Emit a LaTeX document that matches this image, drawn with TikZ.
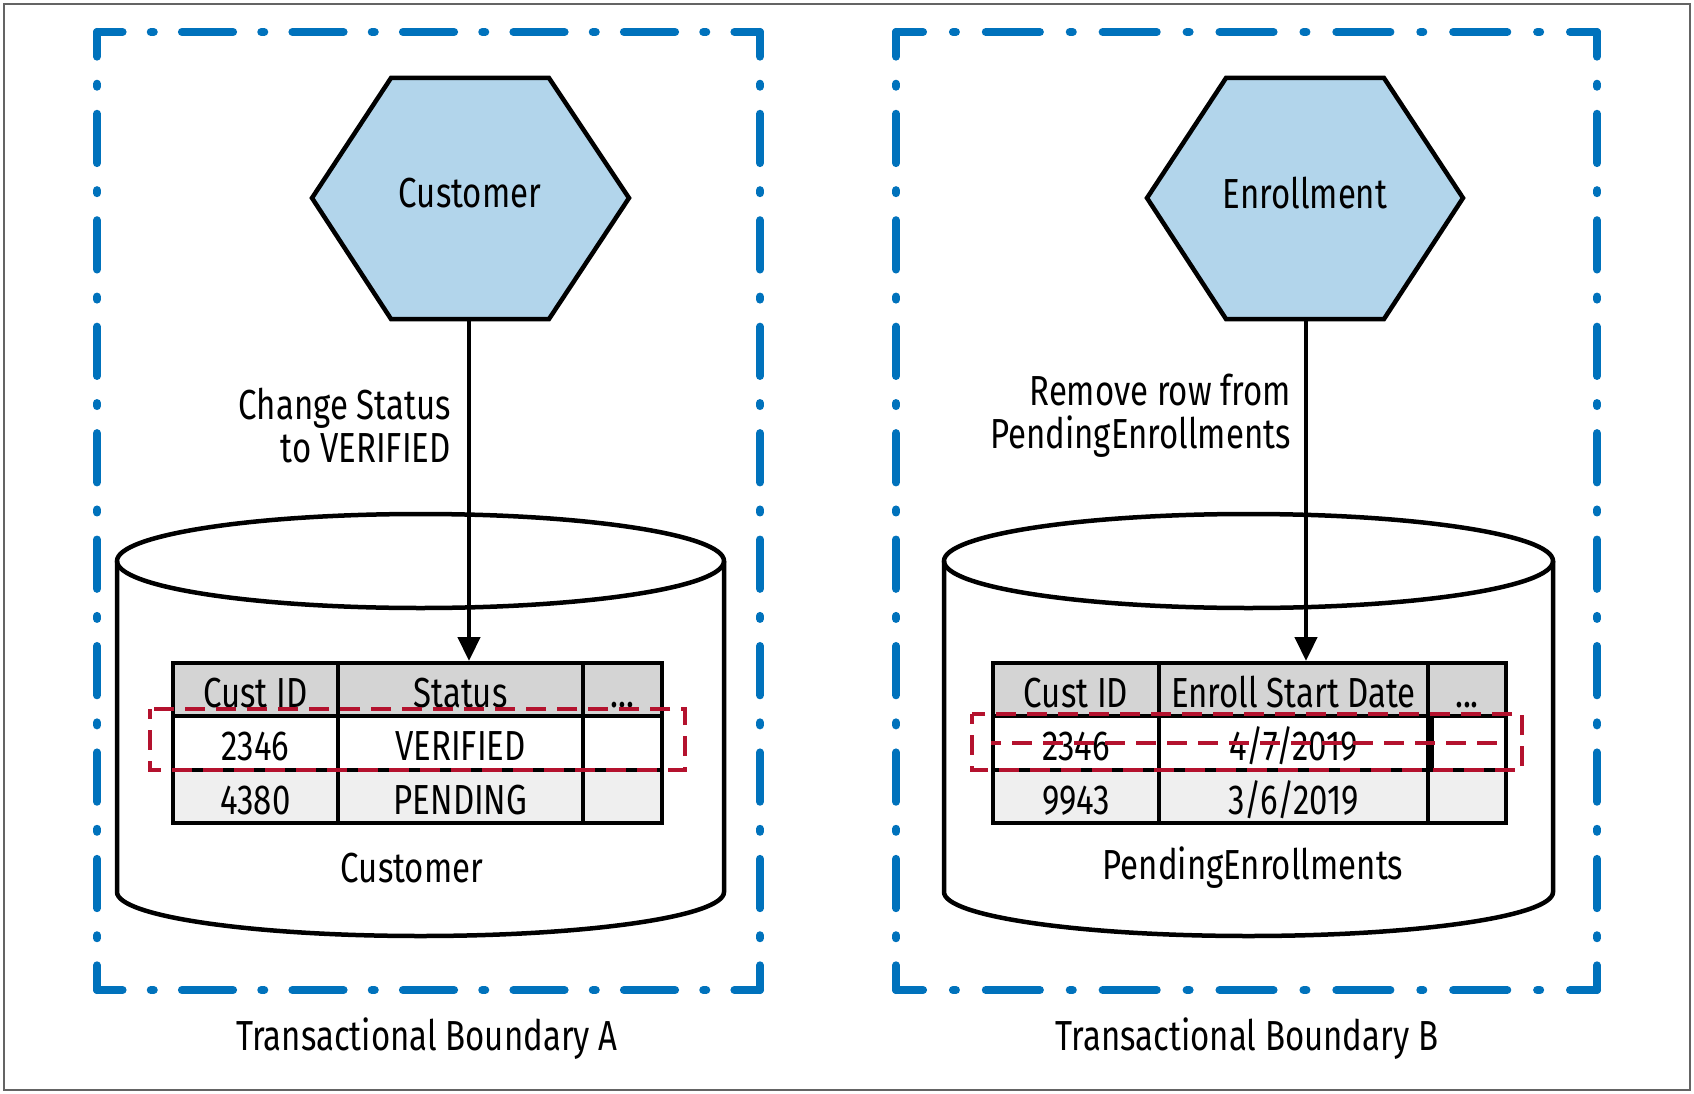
\documentclass[tikz,border=0pt]{standalone}
\usepackage{fontspec}
\setmainfont[FakeStretch=0.785]{Fira Sans}
\usetikzlibrary{arrows.meta}
\definecolor{bblue}{RGB}{0,114,188}
\definecolor{hexfill}{RGB}{178,213,235}
\definecolor{hdr}{RGB}{212,212,212}
\definecolor{rowtwo}{RGB}{239,239,239}
\definecolor{rred}{RGB}{180,18,46}
\definecolor{framegray}{RGB}{100,100,100}
\begin{document}
\begin{tikzpicture}[x=1pt,y=-1pt,
  font=\fontsize{42}{43}\selectfont,
  bnd/.style={draw=bblue, line width=8pt, line cap=round},
  bndH/.style={bnd, dash pattern=on 51.2pt off 28.15pt on 3pt off 28.15pt, dash phase=25.6pt},
  bndV/.style={bnd, dash pattern=on 49.3pt off 27.07pt on 3pt off 27.07pt, dash phase=24.65pt},
  bndHB/.style={bnd, dash pattern=on 54.1pt off 29.87pt on 3pt off 29.87pt, dash phase=27.05pt},
  hexa/.style={draw=black, fill=hexfill, line width=4.5pt, line join=miter},
  cyl/.style={draw=black, line width=4.5pt},
  cell/.style={draw=black, line width=4pt, inner sep=0pt, anchor=north west, text height=36pt, text depth=1pt},
  reddash/.style={draw=rred, line width=4.5pt, dash pattern=on 20pt off 11pt, dash phase=10pt},
  arr/.style={draw=black, line width=4.5pt, -{Triangle[width=22pt,length=24pt]}},
  lbl/.style={inner sep=0pt}
]
\useasboundingbox (0,0) rectangle (1694,1094);
\fill[white] (0,0) rectangle (1694,1094);
\draw[framegray, line width=2pt] (4,4) rectangle (1690,1090);

% boundary A
\coordinate (A1) at (97,32); \coordinate (A2) at (760,32);
\coordinate (A3) at (760,990); \coordinate (A4) at (97,990);
\draw[bndH] (A1) -- (A2);
\draw[bndH] (A4) -- (A3);
\draw[bndV] (A1) -- (A4);
\draw[bndV] (A2) -- (A3);
% boundary B
\coordinate (B1) at (896,32); \coordinate (B2) at (1597,32);
\coordinate (B3) at (1597,990); \coordinate (B4) at (896,990);
\draw[bndHB] (B1) -- (B2);
\draw[bndHB] (B4) -- (B3);
\draw[bndV] (B1) -- (B4);
\draw[bndV] (B2) -- (B3);

% hexagons
\draw[hexa] (312,198) -- (391,78) -- (549,78) -- (629,198) -- (549,319) -- (391,319) -- cycle;
\node[lbl] (cust) at (470,193) {Customer};
\coordinate (custb) at (469,319);
\draw[hexa] (1147,198) -- (1226,78) -- (1384,78) -- (1463,198) -- (1384,319) -- (1226,319) -- cycle;
\node[lbl] (enr) at (1305,193) {Enrollment};
\coordinate (enrb) at (1306,319);

% cylinders
\draw[cyl, fill=white] (117,561) -- (117,892) arc[start angle=180, end angle=360, x radius=303.5pt, y radius=44pt] -- (724,561);
\draw[cyl] (420.5,561) ellipse[x radius=303.5pt, y radius=47pt];
\node[lbl] (cylA) at (412,868) {Customer};
\draw[cyl, fill=white] (944,561) -- (944,892) arc[start angle=180, end angle=360, x radius=304.5pt, y radius=44pt] -- (1553,561);
\draw[cyl] (1248.5,561) ellipse[x radius=304.5pt, y radius=47pt];
\node[lbl] (cylB) at (1253,868) {PendingEnrollments};

% table A
\node[cell, fill=hdr, minimum width=165pt, minimum height=53pt] (a11) at (171,661) {Cust ID};
\node[cell, fill=hdr, minimum width=245pt, minimum height=53pt] (a12) at (336,661) {Status};
\node[cell, fill=hdr, minimum width=79pt, minimum height=53pt] (a13) at (581,661) {{.}{.}{.}};
\node[cell, fill=white, minimum width=165pt, minimum height=54pt] (a21) at (171,714) {2346};
\node[cell, fill=white, minimum width=245pt, minimum height=54pt] (a22) at (336,714) {VERIFIED};
\node[cell, fill=white, minimum width=79pt, minimum height=54pt] (a23) at (581,714) {};
\node[cell, fill=rowtwo, minimum width=165pt, minimum height=53pt] (a31) at (171,768) {4380};
\node[cell, fill=rowtwo, minimum width=245pt, minimum height=53pt] (a32) at (336,768) {PENDING};
\node[cell, fill=rowtwo, minimum width=79pt, minimum height=53pt] (a33) at (581,768) {};
\draw[reddash] (150,709) rectangle (685,770);

% table B
\node[cell, fill=hdr, minimum width=166pt, minimum height=53pt] (b11) at (991,661) {Cust ID};
\node[cell, fill=hdr, minimum width=269pt, minimum height=53pt] (b12) at (1157,661) {Enroll Start Date};
\node[cell, fill=hdr, minimum width=78pt, minimum height=53pt] (b13) at (1426,661) {{.}{.}{.}};
\node[cell, fill=white, minimum width=166pt, minimum height=54pt] (b21) at (991,714) {2346};
\node[cell, fill=white, minimum width=269pt, minimum height=54pt] (b22) at (1157,714) {4/7/2019};
\node[cell, fill=white, minimum width=78pt, minimum height=54pt] (b23) at (1426,714) {};
\node[cell, fill=rowtwo, minimum width=166pt, minimum height=53pt] (b31) at (991,768) {9943};
\node[cell, fill=rowtwo, minimum width=269pt, minimum height=53pt] (b32) at (1157,768) {3/6/2019};
\node[cell, fill=rowtwo, minimum width=78pt, minimum height=53pt] (b33) at (1426,768) {};
\draw[line width=7pt] (b22.north east) -- (b22.south east);
\draw[reddash] (972,714) rectangle (1522,770);
\draw[reddash] (b21.west) -- (b23.east);

% arrows
\coordinate (tA) at (469,661);
\coordinate (tB) at (1306,661);
\draw[arr] (custb) -- (tA);
\draw[arr] (enrb) -- (tB);
\node[lbl, anchor=east, align=right] (labA) at (451,425.5) {Change Status\\to VERIFIED};
\node[lbl, anchor=east, align=right] (labB) at (1291,415.5) {Remove row from\\PendingEnrollments};

% boundary labels
\node[lbl] (tbA) at (427,1039) {Transactional Boundary A};
\node[lbl] (tbB) at (1247,1039) {Transactional Boundary B};
\end{tikzpicture}
\end{document}
